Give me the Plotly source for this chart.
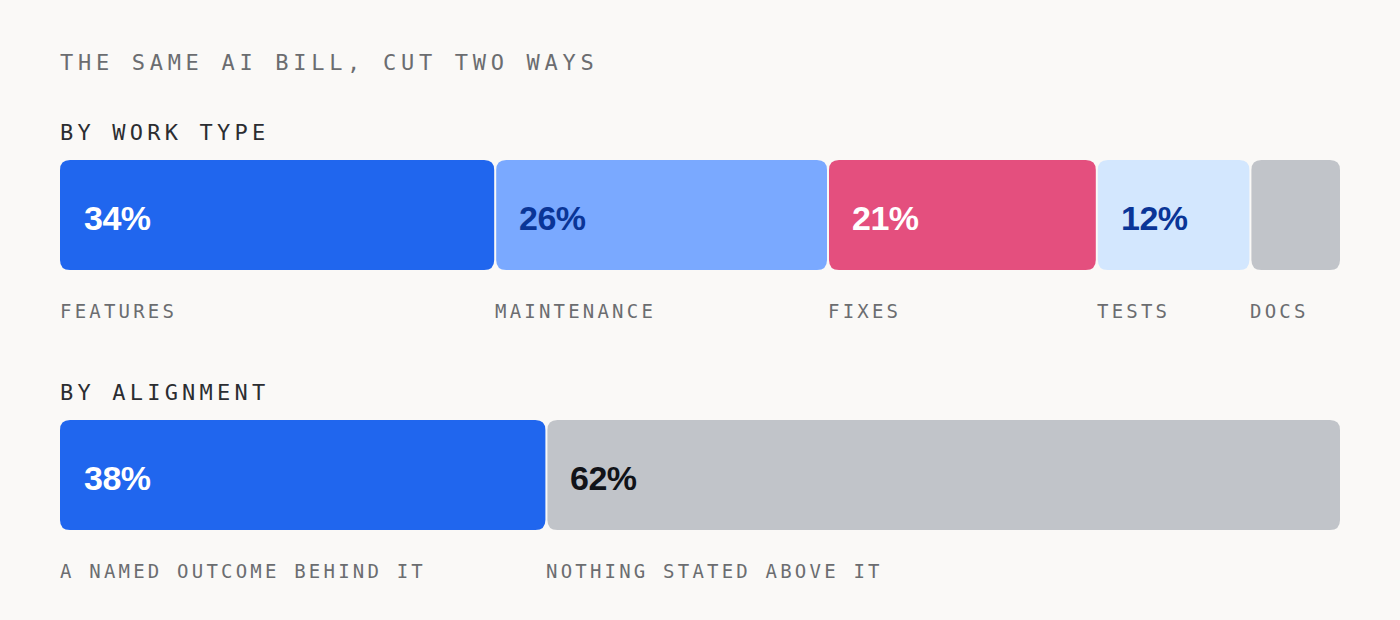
import plotly.graph_objects as go

# Data
title_text = "THE SAME AI BILL, CUT TWO WAYS"
row_titles = ["BY WORK TYPE", "BY ALIGNMENT"]

work_labels = ["FEATURES", "MAINTENANCE", "FIXES", "TESTS", "DOCS"]
work_values = [34, 26, 21, 12, 7]
work_shown = ["34%", "26%", "21%", "12%", ""]

align_labels = ["A NAMED OUTCOME BEHIND IT", "NOTHING STATED ABOVE IT"]
align_values = [38, 62]
align_shown = ["38%", "62%"]

# Styles
BG = "#faf9f7"
MONO = "DejaVu Sans Mono"
SANS = "Liberation Sans"
work_colors = ["#2066ee", "#7aa9ff", "#e44f7e", "#d3e7fe", "#c1c4c9"]
work_text_colors = ["#ffffff", "#0a3597", "#ffffff", "#0a3597", "#ffffff"]
align_colors = ["#2066ee", "#c1c4c9"]
align_text_colors = ["#ffffff", "#111318"]

W, H = 1400, 620
LEFT, RIGHT = 60, 60
PX = 100 / (W - LEFT - RIGHT)   # data units per pixel on x
RADIUS = 10
GAP = 2

# rows: bar top / bottom, header and label centre lines (pixels)
rows = [
    dict(top=160, bottom=270, head=132, lab=311),
    dict(top=420, bottom=530, head=392, lab=571),
]


def spaced(text, px):
    return f'<span style="letter-spacing:{px}px">{text}</span>'


def rounded_path(x0, x1, y0, y1):
    rx = RADIUS * PX
    ry = RADIUS
    return (
        f"M {x0 + rx},{y0} L {x1 - rx},{y0} Q {x1},{y0} {x1},{y0 + ry} "
        f"L {x1},{y1 - ry} Q {x1},{y1} {x1 - rx},{y1} "
        f"L {x0 + rx},{y1} Q {x0},{y1} {x0},{y1 - ry} "
        f"L {x0},{y0 + ry} Q {x0},{y0} {x0 + rx},{y0} Z"
    )


fig = go.Figure()
shapes = []
annotations = []

annotations.append(dict(
    x=0, y=62, xref="x", yref="y", xanchor="left", yanchor="middle", xshift=-2,
    text=spaced(title_text, 4.7), showarrow=False,
    font=dict(family=MONO, size=22, color="#6b6d70"),
))

sets = [
    (work_labels, work_values, work_shown, work_colors, work_text_colors),
    (align_labels, align_values, align_shown, align_colors, align_text_colors),
]

for row, title, (labels, values, shown, colors, tcolors) in zip(rows, row_titles, sets):
    annotations.append(dict(
        x=0, y=row["head"], xref="x", yref="y", xanchor="left", yanchor="middle", xshift=-2,
        text=spaced(title, 4.2), showarrow=False,
        font=dict(family=MONO, size=22, color="#2b2d31"),
    ))
    start = 0
    for lab, val, txt, col, tcol in zip(labels, values, shown, colors, tcolors):
        end = start + val
        x0 = start + (GAP / 2) * PX if start > 0 else start
        x1 = end - (GAP / 2) * PX if end < 100 else end
        shapes.append(dict(
            type="path", xref="x", yref="y", layer="below",
            path=rounded_path(x0, x1, row["top"], row["bottom"]),
            fillcolor=col, line=dict(width=0),
        ))
        if txt:
            annotations.append(dict(
                x=start, y=(row["top"] + row["bottom"]) / 2 + 3, xref="x", yref="y",
                xanchor="left", yanchor="middle", xshift=22,
                text=spaced(txt, -0.5), showarrow=False,
                font=dict(family=SANS, size=34, color=tcol, weight="bold"),
            ))
        annotations.append(dict(
            x=start, y=row["lab"], xref="x", yref="y", xanchor="left", yanchor="middle",
            xshift=-2, text=spaced(lab, 3.2), showarrow=False,
            font=dict(family=MONO, size=19, color="#6b6d70"),
        ))
        start = end

# invisible trace to keep axes alive
fig.add_trace(go.Scatter(x=[0, 100], y=[0, H], mode="markers",
                         marker=dict(opacity=0), hoverinfo="skip", showlegend=False))

fig.update_layout(
    width=W, height=H,
    margin=dict(l=LEFT, r=RIGHT, t=0, b=0),
    paper_bgcolor=BG, plot_bgcolor=BG,
    shapes=shapes, annotations=annotations,
    showlegend=False,
    xaxis=dict(range=[0, 100], visible=False, fixedrange=True),
    yaxis=dict(range=[H, 0], visible=False, fixedrange=True),
)

fig.write_html(
    "out.html",
    config={"displayModeBar": False},
    post_script="document.body.style.margin='0';document.body.style.background='" + BG + "';",
)
